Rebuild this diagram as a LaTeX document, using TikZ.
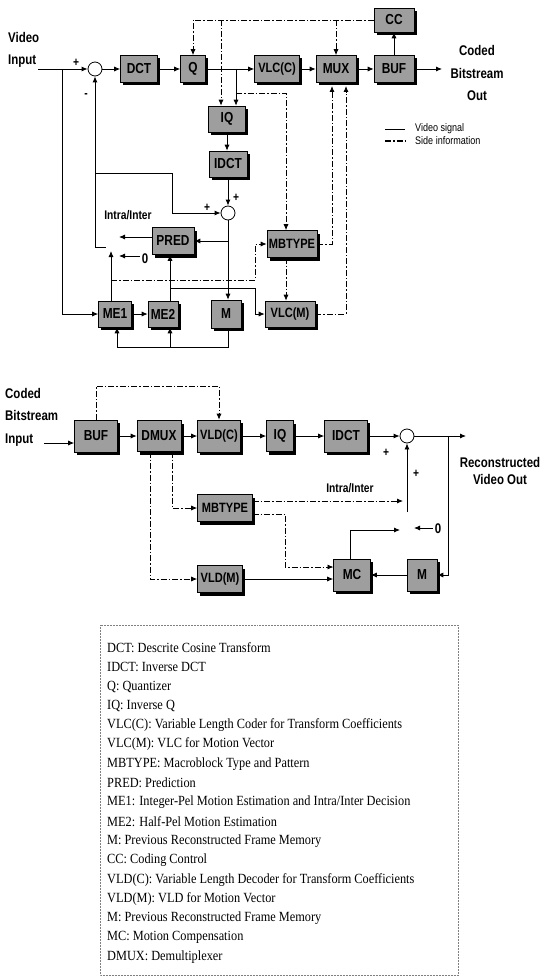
\documentclass[tikz,border=0pt]{standalone}
\usepackage{fontspec}
\setmainfont{Liberation Serif}
\newfontfamily\labfont[FakeStretch=0.82]{Liberation Sans}
\newfontfamily\legfont[FakeStretch=0.88]{Liberation Serif}
\usetikzlibrary{arrows.meta,shadows,calc}
\tikzset{
  blk/.style={draw=black, line width=0.6pt, fill=black!38, inner sep=0pt,
    font=\labfont\bfseries\fontsize{14.5}{14.5}\selectfont,
    drop shadow={shadow xshift=2.5pt, shadow yshift=-3pt, fill=black, opacity=1}},
  narrowlab/.style={font=\labfont\bfseries\fontsize{13.5}{13.5}\selectfont},
  sumnode/.style={circle, draw, line width=0.8pt, minimum size=14pt, inner sep=0pt},
  vid/.style={line width=0.8pt},
  side/.style={line width=0.8pt, dash pattern=on 6pt off 2pt on 1.5pt off 2pt},
  arr/.style={-{Latex[length=6pt,width=5pt]}},
  lab/.style={font=\labfont\bfseries\fontsize{14}{22.5}\selectfont, inner sep=0pt},
  sml/.style={font=\labfont\bfseries\fontsize{12.5}{14}\selectfont, inner sep=0pt},
  tiny/.style={font=\labfont\fontsize{11}{13}\selectfont, inner sep=0pt, anchor=west},
  leg/.style={font=\legfont\fontsize{14}{16}\selectfont, anchor=west, inner sep=0pt},
}
\begin{document}
\begin{tikzpicture}[x=1pt,y=-1pt]
\useasboundingbox (0,0) rectangle (550,979);
% ================= ENCODER =================
\node[lab, anchor=west, align=left] (vin) at (8,50) {Video\\Input};
\node[sumnode] (a1) at (95,69) {};
\node[blk, minimum width=37pt, minimum height=27pt] (dct) at (139,69) {DCT};
\node[blk, minimum width=25pt, minimum height=27pt] (q) at (193,69) {Q};
\node[blk, narrowlab, minimum width=45pt, minimum height=27pt] (vlcc) at (277,69) {VLC(C)};
\node[blk, minimum width=40pt, minimum height=27pt] (mux) at (336,69) {MUX};
\node[blk, minimum width=40pt, minimum height=27pt] (buf) at (394,69) {BUF};
\node[blk, minimum width=40pt, minimum height=24pt] (cc) at (394,20) {CC};
\node[lab, align=center] (cout) at (477,73) {Coded\\Bitstream\\Out};
\node[blk, minimum width=37pt, minimum height=26pt] (iq) at (227,119) {IQ};
\node[blk, minimum width=38pt, minimum height=26pt] (idct) at (228,164) {IDCT};
\node[sumnode] (a2) at (228,213) {};
\node[blk, minimum width=42pt, minimum height=27pt] (pred) at (173,241) {PRED};
\node[blk, narrowlab, minimum width=50pt, minimum height=27pt] (mbt) at (292,244) {MBTYPE};
\node[blk, minimum width=33pt, minimum height=26pt] (me1) at (115,314) {ME1};
\node[blk, minimum width=30pt, minimum height=26pt] (me2) at (163,314) {ME2};
\node[blk, minimum width=30pt, minimum height=28pt] (m) at (226,314) {M};
\node[blk, narrowlab, minimum width=50pt, minimum height=26pt] (vlcm) at (290,314) {VLC(M)};
% signs and small labels
\node[sml] (p1) at (76,63) {+};
\node[sml] (n1) at (86,96) {-};
\node[sml] (p2) at (236,198) {+};
\node[sml] (p3) at (207,208) {+};
\node[sml] (ii1) at (128,215) {Intra/Inter};
\node[lab] (z1) at (145,259) {0};
% legend of line types
\coordinate (lv1) at (385,129); \coordinate (lv2) at (405,129);
\coordinate (ls1) at (385,141); \coordinate (ls2) at (405,141);
\draw[vid] (lv1) -- (lv2);
\draw[side, line width=1.4pt] (ls1) -- (ls2);
\node[tiny] (tv) at (415,129) {Video signal};
\node[tiny] (ts) at (415,141) {Side information};
% video path
\coordinate (inS) at (38,69);
\coordinate (br1) at (62,69);
\draw[vid,arr] (inS) -- (a1.west);
\draw[vid,arr] (br1) |- (me1.west);
\draw[vid,arr] (a1.east) -- (dct.west);
\draw[vid,arr] (dct) -- (q);
\draw[vid,arr] (q) -- (vlcc);
\draw[vid,arr] (vlcc) -- (mux);
\draw[vid,arr] (mux) -- (buf);
\coordinate (outT) at (442,69);
\draw[vid,arr] (buf.east) -- (outT);
\draw[vid,arr] (buf.north) -- (buf.north |- cc.south);
% Q branches
\coordinate (qb) at (236,69);
\coordinate (qb2) at (236,93);
\coordinate (mbx) at (286,93);
\draw[vid,arr] (qb) -- (qb |- iq.north);
\draw[side,arr] (qb2) -- (mbx) -- (mbx |- mbt.north);
% coding control
\coordinate (c1) at (221,20);
\draw[side,arr] (cc.west) -| (q.north);
\draw[side,arr] (c1) -- (c1 |- iq.north);
\draw[side,arr] (mux.north |- cc.west) -- (mux.north);
% reconstruction
\draw[vid,arr] (iq.south) -- (iq.south |- idct.north);
\draw[vid,arr] (idct.south) -- (a2.north);
\coordinate (sw) at (95,247);
\coordinate (swR) at (106,247);
\draw[vid,arr] (sw) -- (a1.south);
\draw[vid] (sw) -- (swR);
\coordinate (fb) at (95,173);
\coordinate (fb2) at (172,173);
\draw[vid,arr] (fb) -- (fb2) |- (a2.west);
\coordinate (pw) at (152,237);
\coordinate (pwt) at (119,237);
\draw[vid,arr] (pw) -- (pwt);
\coordinate (z1t) at (119,256);
\draw[vid,arr] (z1.west) ++(-2,-3) -- (z1t);
\coordinate (pin) at (228,241);
\draw[vid,arr] (pin) -- (pred.east);
\draw[vid,arr] (a2.south) -- (a2.south |- m.north);
% memory feedback
\coordinate (mt) at (228,328);
\coordinate (mb) at (228,347);
\coordinate (me1b) at (117,347);
\coordinate (me2b) at (170,347);
\draw[vid] (mt) -- (mb) -- (me1b);
\draw[vid,arr] (me1b) -- (me1b |- me1.south);
\draw[vid,arr] (me2b) -- (me2b |- me2.south);
\draw[vid,arr] (me1) -- (me2);
% ME1 outputs
\coordinate (me1t) at (111,301);
\coordinate (swT) at (111,251);
\coordinate (e1a) at (111,280);
\coordinate (e1b) at (255,280);
\draw[vid,arr] (me1t) -- (swT);
\draw[side,arr] (e1a) -- (e1b) |- (mbt.west);
% ME2 outputs
\coordinate (me2t) at (170,301);
\coordinate (e2a) at (170,288);
\coordinate (e2b) at (255,288);
\draw[vid,arr] (me2t) -- (me2t |- pred.south);
\draw[vid,arr] (e2a) -- (e2b) |- (vlcm.west);
% side information into MUX
\coordinate (mbb) at (286,257.5);
\draw[side,arr] (mbb) -- (mbb |- vlcm.north);
\coordinate (mx1) at (332,86);
\coordinate (mx2) at (346,86);
\draw[side,arr] (mbt.east) -| (mx1);
\draw[side,arr] (vlcm.east) -| (mx2);
% ================= DECODER =================
\node[lab, anchor=west, align=left] (cin) at (5,417) {Coded\\Bitstream\\Input};
\node[blk, minimum width=43pt, minimum height=32pt] (bufB) at (96,436) {BUF};
\node[blk, minimum width=44pt, minimum height=31pt] (dmux) at (159,436) {DMUX};
\node[blk, narrowlab, minimum width=43pt, minimum height=32pt] (vldc) at (219,436) {VLD(C)};
\node[blk, minimum width=27pt, minimum height=31pt] (iqB) at (280,436) {IQ};
\node[blk, minimum width=43pt, minimum height=32pt] (idctB) at (346,436) {IDCT};
\node[sumnode] (a3) at (407,436) {};
\node[lab, align=center, font=\labfont\bfseries\fontsize{14}{17.5}\selectfont] (rout) at (500,471) {Reconstructed\\Video Out};
\node[blk, narrowlab, minimum width=55pt, minimum height=27pt] (mbtB) at (225,508) {MBTYPE};
\node[blk, narrowlab, minimum width=45pt, minimum height=27pt] (vldm) at (220,579) {VLD(M)};
\node[blk, minimum width=37pt, minimum height=32pt] (mc) at (352,575) {MC};
\node[blk, minimum width=30pt, minimum height=32pt] (mB) at (422,575) {M};
\node[sml] (p4) at (386,453) {+};
\node[sml] (p5) at (416,474) {+};
\node[sml] (ii2) at (350,488) {Intra/Inter};
\node[lab] (z2) at (438,529) {0};
% main path
\coordinate (inB) at (44,443);
\draw[vid,arr] (inB) -- (inB -| bufB.west);
\draw[vid,arr] (bufB) -- (dmux);
\draw[vid,arr] (dmux) -- (vldc);
\draw[vid,arr] (vldc) -- (iqB);
\draw[vid,arr] (iqB) -- (idctB);
\draw[vid,arr] (idctB.east) -- (a3.west);
\coordinate (oB) at (466,436);
\coordinate (brB) at (448,436);
\draw[vid,arr] (a3.east) -- (oB);
\draw[vid,arr] (brB) |- (mB.east);
\draw[vid,arr] (mB) -- (mc);
% side info
\coordinate (bt) at (96,386);
\draw[side,arr] (bufB.north) -- (bt) -| (vldc.north);
\coordinate (d1) at (172,451.5);
\coordinate (d2) at (150,451.5);
\draw[side,arr] (d1) |- (mbtB.west);
\draw[side,arr] (d2) |- (vldm.west);
\coordinate (u1) at (252.5,501);
\coordinate (u1t) at (403,501);
\draw[side,arr] (u1) -- (u1t);
\coordinate (l1) at (252.5,514);
\coordinate (l1b) at (285,514);
\coordinate (mcw1) at (333.5,567);
\draw[side,arr] (l1) -- (l1b) |- (mcw1);
\draw[vid,arr] (vldm.east) -- (vldm.east -| mc.west);
% switch
\coordinate (swB) at (407,512);
\draw[vid,arr] (swB) -- (a3.south);
\coordinate (mcn) at (350,559);
\coordinate (mct) at (400,530);
\draw[vid,arr] (mcn) |- (mct);
\coordinate (z2t) at (414,528);
\draw[vid,arr] (z2.west) ++(-2,-1) -- (z2t);
% ================= LEGEND =================
\draw[gray, line width=0.5pt, densely dotted] (100,625) rectangle (458,975);
\node[leg] (g1) at (107,648) {DCT: Descrite Cosine Transform};
\node[leg] (g2) at (107,667.3) {IDCT: Inverse DCT};
\node[leg] (g3) at (107,686.6) {Q: Quantizer};
\node[leg] (g4) at (107,705.9) {IQ: Inverse Q};
\node[leg] (g5) at (107,725.2) {VLC(C): Variable Length Coder for Transform Coefficients};
\node[leg] (g6) at (107,744.5) {VLC(M): VLC for Motion Vector};
\node[leg] (g7) at (107,763.8) {MBTYPE: Macroblock Type and Pattern};
\node[leg] (g8) at (107,783.1) {PRED: Prediction};
\node[leg] (g9) at (107,802.4) {ME1: Integer-Pel Motion Estimation and Intra/Inter Decision};
\node[leg] (g10) at (107,821.7) {ME2: Half-Pel Motion Estimation};
\node[leg] (g11) at (107,841) {M: Previous Reconstructed Frame Memory};
\node[leg] (g12) at (107,860.3) {CC: Coding Control};
\node[leg] (g13) at (107,879.6) {VLD(C): Variable Length Decoder for Transform Coefficients};
\node[leg] (g14) at (107,898.9) {VLD(M): VLD for Motion Vector};
\node[leg] (g15) at (107,918.2) {M: Previous Reconstructed Frame Memory};
\node[leg] (g16) at (107,937.5) {MC: Motion Compensation};
\node[leg] (g17) at (107,956.8) {DMUX: Demultiplexer};
\end{tikzpicture}
\end{document}
